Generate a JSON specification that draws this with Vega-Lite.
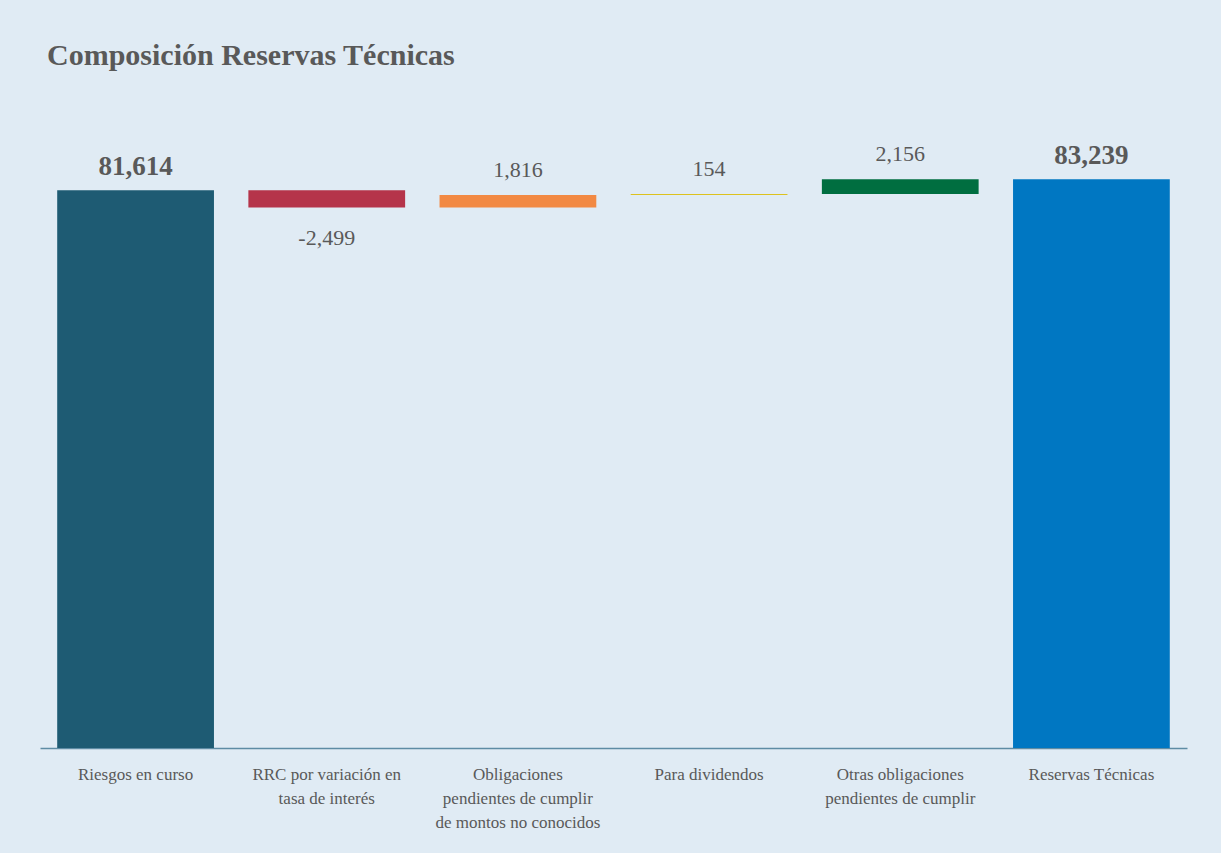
{
  "$schema": "https://vega.github.io/schema/vega-lite/v6.json",
  "width": 1147,
  "height": 615,
  "autosize": "none",
  "padding": {"left": 40, "top": 133, "right": 34, "bottom": 105},
  "background": "#E0EBF4",
  "config": {"view": {"stroke": null}, "font": "Liberation Serif"},
  "title": {
    "text": "Composición Reservas Técnicas",
    "anchor": "start",
    "frame": "group",
    "dx": 7,
    "offset": 38,
    "baseline": "alphabetic",
    "font": "Liberation Serif",
    "fontSize": 30,
    "fontWeight": "bold",
    "color": "#595959"
  },
  "data": {
    "values": [
      {"cat": "Riesgos en curso", "tipo": "total", "inicio": 0, "fin": 81614, "etiqueta": "81,614"},
      {"cat": "RRC por variación en|tasa de interés", "tipo": "neg", "inicio": 81614, "fin": 79115, "etiqueta": "-2,499"},
      {"cat": "Obligaciones|pendientes de cumplir|de montos no conocidos", "tipo": "pos", "inicio": 79115, "fin": 80931, "etiqueta": "1,816"},
      {"cat": "Para dividendos", "tipo": "pos", "inicio": 80931, "fin": 81085, "etiqueta": "154"},
      {"cat": "Otras obligaciones|pendientes de cumplir", "tipo": "pos", "inicio": 81085, "fin": 83239, "etiqueta": "2,156"},
      {"cat": "Reservas Técnicas", "tipo": "total", "inicio": 0, "fin": 83239, "etiqueta": "83,239"}
    ]
  },
  "encoding": {
    "x": {
      "field": "cat",
      "type": "nominal",
      "sort": null,
      "scale": {"paddingInner": 0.18, "paddingOuter": 0.09},
      "axis": {
        "title": null,
        "labelAngle": 0,
        "labelExpr": "split(datum.label, '|')",
        "labelFont": "Liberation Serif",
        "labelFontSize": 17,
        "labelColor": "#595959",
        "labelPadding": 18,
        "labelLineHeight": 24,
        "labelBaseline": "top",
        "ticks": false,
        "grid": false,
        "domainColor": "#5E8CA4",
        "domainWidth": 1.5
      }
    }
  },
  "layer": [
    {
      "mark": {"type": "bar"},
      "encoding": {
        "y": {"field": "inicio", "type": "quantitative", "scale": {"domain": [0, 90000]}, "axis": null},
        "y2": {"field": "fin"},
        "color": {
          "field": "cat",
          "type": "nominal",
          "legend": null,
          "scale": {
            "domain": [
              "Riesgos en curso",
              "RRC por variación en|tasa de interés",
              "Obligaciones|pendientes de cumplir|de montos no conocidos",
              "Para dividendos",
              "Otras obligaciones|pendientes de cumplir",
              "Reservas Técnicas"
            ],
            "range": ["#1E5B73", "#B5344A", "#F28943", "#DDC21E", "#006E40", "#0077C2"]
          }
        }
      }
    },
    {
      "transform": [{"filter": "datum.tipo == 'total'"}],
      "mark": {"type": "text", "baseline": "alphabetic", "dy": -15, "fontSize": 27, "fontWeight": "bold", "color": "#595959", "font": "Liberation Serif"},
      "encoding": {
        "y": {"field": "fin", "type": "quantitative"},
        "text": {"field": "etiqueta", "type": "nominal"}
      }
    },
    {
      "transform": [{"filter": "datum.tipo == 'pos'"}],
      "mark": {"type": "text", "baseline": "alphabetic", "dy": -18, "fontSize": 22, "color": "#595959", "font": "Liberation Serif"},
      "encoding": {
        "y": {"field": "fin", "type": "quantitative"},
        "text": {"field": "etiqueta", "type": "nominal"}
      }
    },
    {
      "transform": [{"filter": "datum.tipo == 'neg'"}],
      "mark": {"type": "text", "baseline": "alphabetic", "dy": 38, "fontSize": 22, "color": "#595959", "font": "Liberation Serif"},
      "encoding": {
        "y": {"field": "fin", "type": "quantitative"},
        "text": {"field": "etiqueta", "type": "nominal"}
      }
    }
  ]
}
